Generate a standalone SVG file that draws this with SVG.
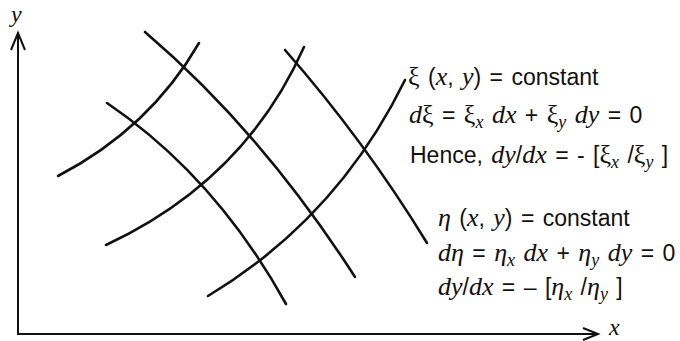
<svg xmlns="http://www.w3.org/2000/svg" width="680" height="341" viewBox="0 0 680 341">
<style>
.c{fill:none;stroke:#111;stroke-width:2.6;stroke-linecap:round}
.ax{fill:none;stroke:#111;stroke-width:2}
.t{font-family:"Liberation Sans",Arial,sans-serif;font-size:23px;fill:#111;word-spacing:2px}
.m{font-family:"Liberation Serif","Times New Roman",serif;font-style:italic;font-size:26px}
.g{font-family:"Liberation Serif","Times New Roman",serif;font-size:26px}
.s{font-size:18px}
.lab{font-family:"Liberation Serif","Times New Roman",serif;font-style:italic;font-size:24px;fill:#111}
</style>
<rect width="680" height="341" fill="#fff"/>
<g id="axes">
<path class="ax" d="M18,33 V334 H598"/>
<path class="ax" d="M11,50 L18,33 L25,50"/>
<path class="ax" d="M583,328 L598,334 L583,340"/>
<text x="11" y="22" class="lab">y</text>
<text x="609" y="335" class="lab">x</text>
</g>
<g id="connectors">
<path id="xi1" class="c" d="M58,176 Q150,128 199,43"/>
<path id="xi2" class="c" d="M106,245 Q245,180 304,47"/>
<path id="xi3" class="c" d="M208,296 Q337.5,218 405,80"/>
<path id="eta1" class="c" d="M107,103 Q215.5,176.5 286,304"/>
<path id="eta2" class="c" d="M145,32 Q262,132 355,277"/>
<path id="eta3" class="c" d="M285,50 Q364,140 427,243"/>
</g>
<g id="xi-text">
<text x="408" y="85" class="t"><tspan class="g">ξ</tspan> (<tspan class="m">x</tspan>, <tspan class="m">y</tspan>) = constant</text>
<text x="409" y="123" class="t"><tspan class="m">d</tspan><tspan class="g">ξ</tspan> = <tspan class="g">ξ</tspan><tspan class="m s" dy="5">x</tspan><tspan class="m" dy="-5"> dx</tspan> + <tspan class="g">ξ</tspan><tspan class="m s" dy="5">y</tspan><tspan class="m" dy="-5"> dy</tspan> = 0</text>
<text x="410" y="163" class="t">Hence, <tspan class="m">dy</tspan>/<tspan class="m">dx</tspan> = - [<tspan class="g">ξ</tspan><tspan class="m s" dy="5">x</tspan><tspan dy="-5"> /</tspan><tspan class="g">ξ</tspan><tspan class="m s" dy="5">y</tspan><tspan dy="-5"> ]</tspan></text>
</g>
<g id="eta-text">
<text x="438" y="226" class="t"><tspan class="m">η</tspan> (<tspan class="m">x</tspan>, <tspan class="m">y</tspan>) = constant</text>
<text x="438" y="261" class="t"><tspan class="m">d</tspan><tspan class="m">η</tspan> = <tspan class="m">η</tspan><tspan class="m s" dy="5">x</tspan><tspan class="m" dy="-5"> dx</tspan> + <tspan class="m">η</tspan><tspan class="m s" dy="5">y</tspan><tspan class="m" dy="-5"> dy</tspan> = 0</text>
<text x="438" y="295" class="t" word-spacing="6"><tspan class="m">dy</tspan>/<tspan class="m">dx</tspan> = – [<tspan class="m">η</tspan><tspan class="m s" dy="5">x</tspan><tspan dy="-5"> /</tspan><tspan class="m">η</tspan><tspan class="m s" dy="5">y</tspan><tspan dy="-5"> ]</tspan></text>
</g>
</svg>
